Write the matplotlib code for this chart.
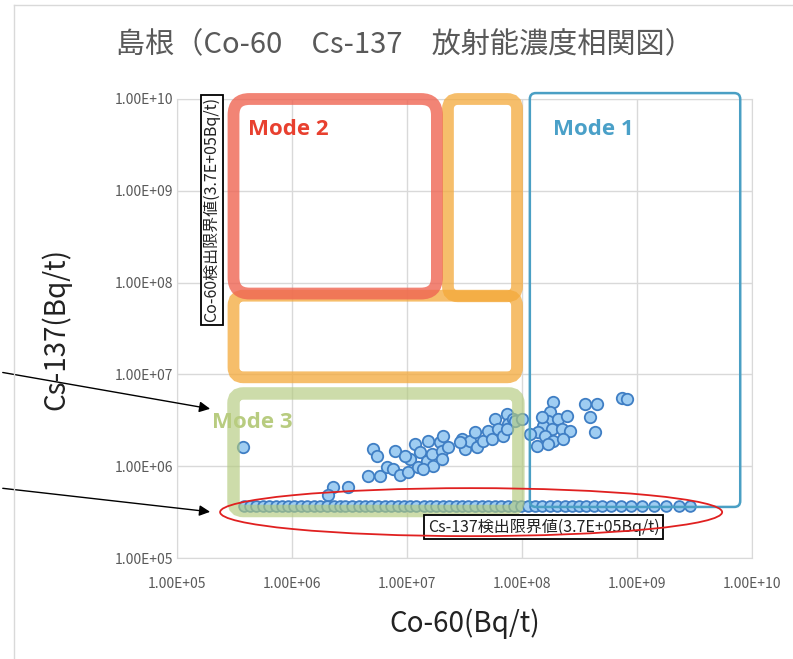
#Shimane Co-60 / Cs-137 activity correlation chart
import matplotlib
matplotlib.use("Agg")
import matplotlib.pyplot as plt
from matplotlib.patches import FancyBboxPatch, Ellipse
from matplotlib.transforms import IdentityTransform

plt.rcParams['font.family'] = ['Noto Sans CJK JP', 'DejaVu Sans']

#detected samples (Bq/t)
co60 = [3.75e5, 2.27e6, 3.07e6, 2.06e6, 5.06e6, 5.48e6, 7.87e6, 4.58e6, 5.82e6, 6.7e6,
        7.55e6, 8.7e6, 1.02e7, 1.06e7, 1.17e7, 1.25e7, 1.30e7, 1.49e7, 1.52e7, 1.65e7,
        1.68e7, 1.94e7, 2.01e7, 2.06e7, 2.27e7, 2.01e7, 3.0e7, 3.19e7, 3.53e7, 3.9e7,
        4.06e7, 4.58e7, 5.06e7, 5.48e7, 5.82e7, 6.18e7, 6.84e7, 7.41e7, 7.55e7, 8.35e7,
        9.6e6, 1.38e7, 2.89e7, 8.7e7, 1.0e8, 7.41e7,
        1.86e8, 1.75e8, 1.68e8, 1.52e8, 2.06e8, 2.46e8, 1.38e8, 1.82e8, 2.23e8, 2.61e8,
        1.58e8, 1.86e8, 2.27e8, 1.35e8, 1.68e8, 3.53e8, 4.49e8, 3.9e8, 4.31e8, 7.41e8,
        8.19e8, 1.49e8, 1.17e8]
cs137 = [1.61e6, 5.9e5, 5.9e5, 4.8e5, 1.53e6, 1.29e6, 1.46e6, 7.8e5, 7.8e5, 9.75e5,
         9.3e5, 8.0e5, 8.6e5, 1.19e6, 1.73e6, 9.75e5, 1.42e6, 1.13e6, 1.87e6, 1.35e6,
         1.0e6, 1.82e6, 1.46e6, 2.12e6, 1.61e6, 1.19e6, 1.96e6, 1.53e6, 1.87e6, 2.34e6,
         1.61e6, 1.87e6, 2.4e6, 1.96e6, 3.24e6, 2.52e6, 2.12e6, 3.67e6, 2.86e6, 3.24e6,
         1.29e6, 9.3e5, 1.82e6, 3.08e6, 3.24e6, 2.52e6,
         4.97e6, 3.87e6, 3.08e6, 2.72e6, 3.24e6, 3.49e6, 2.34e6, 2.52e6, 2.52e6, 2.4e6,
         2.12e6, 1.87e6, 1.96e6, 1.65e6, 1.73e6, 4.72e6, 4.72e6, 3.41e6, 2.34e6, 5.48e6,
         5.35e6, 3.41e6, 2.23e6]

#samples with Cs-137 below detection limit (plotted at the limit)
cs137_limit = 3.7e5
co60_at_cs_limit = [3.8e5, 4.3e5, 4.9e5, 5.6e5, 6.3e5, 7.2e5, 8.2e5, 9.3e5, 1.05e6, 1.2e6,
                    1.35e6, 1.55e6, 1.75e6, 2.0e6, 2.3e6, 2.6e6, 2.9e6, 3.3e6, 3.8e6, 4.3e6,
                    4.9e6, 5.6e6, 6.4e6, 7.3e6, 8.3e6, 9.4e6, 1.07e7, 1.2e7, 1.4e7, 1.6e7,
                    1.8e7, 2.05e7, 2.3e7, 2.65e7, 3.0e7, 3.4e7, 3.9e7, 4.5e7, 5.1e7, 5.8e7,
                    6.6e7, 7.5e7, 8.6e7, 9.8e7, 1.12e8, 1.3e8, 1.5e8, 1.75e8, 2.0e8, 2.35e8,
                    2.7e8, 3.1e8, 3.6e8, 4.2e8, 5.0e8, 6.0e8, 7.2e8, 8.8e8, 1.1e9, 1.4e9,
                    1.8e9, 2.3e9, 2.9e9]

ticks = [1e5, 1e6, 1e7, 1e8, 1e9, 1e10]
tick_labels = ["1.00E+05", "1.00E+06", "1.00E+07", "1.00E+08", "1.00E+09", "1.00E+10"]

#mode regions: (co60 min, co60 max, cs137 min, cs137 max)
mode2_box = (3.1e5, 1.82e7, 7.6e7, 1.0e10)
orange_box_a = (2.27e7, 9.05e7, 7.1e7, 1.0e10)
orange_box_b = (3.1e5, 9.05e7, 9.3e6, 7.2e7)
mode3_box = (3.1e5, 9.3e7, 3.25e5, 6.2e6)
mode1_box = (1.17e8, 7.9e9, 3.6e5, 1.16e10)
limit_ellipse = (2.37e5, 5.5e9, 1.73e5, 5.77e5)

fig = plt.figure(figsize=(7.93, 6.59), dpi=100)
ax = fig.add_axes([177/793, 101/659, 575/793, 459/659])
ax.set_xscale("log")
ax.set_yscale("log")
ax.set_xlim(1e5, 1e10)
ax.set_ylim(1e5, 1e10)
ax.set_xticks(ticks)
ax.set_xticklabels(tick_labels)
ax.set_yticks(ticks)
ax.set_yticklabels(tick_labels)
ax.minorticks_off()
ax.tick_params(axis="x", length=0, pad=14, labelsize=10, labelcolor="#595959")
ax.tick_params(axis="y", length=0, pad=3, labelsize=10, labelcolor="#595959")
ax.grid(True, color="#d9d9d9", linewidth=1)
for s in ax.spines.values():
    s.set_color("#d9d9d9")
ax.set_axisbelow(True)

ax.scatter(co60, cs137, s=68, facecolor="#9fcdf2", edgecolor="#3f7ec4", linewidth=1.3, zorder=2)
ax.scatter(co60_at_cs_limit, [cs137_limit] * len(co60_at_cs_limit), s=60,
           facecolor="#9fcdf2", edgecolor="#3f7ec4", linewidth=1.3, zorder=2)


def rounded_box(box, color, lw, alpha, radius):
    x0, y0 = ax.transData.transform((box[0], box[2]))
    x1, y1 = ax.transData.transform((box[1], box[3]))
    p = FancyBboxPatch((x0, y0), x1 - x0, y1 - y0,
                       boxstyle="round,pad=0,rounding_size=%g" % radius,
                       transform=IdentityTransform(), fill=False, edgecolor=color,
                       linewidth=lw, alpha=alpha, zorder=3, clip_on=False)
    ax.add_artist(p)


rounded_box(orange_box_a, "#f4a93a", 8.5, 0.75, 10)
rounded_box(orange_box_b, "#f4a93a", 8.5, 0.75, 10)
rounded_box(mode2_box, "#ef6553", 8.5, 0.8, 16)
rounded_box(mode3_box, "#b3ca7d", 9, 0.65, 10)
rounded_box(mode1_box, "#4a9fc4", 1.8, 1.0, 6)

ax.text(4.14e5, 4.6e9, "Mode 2", color="#e8402f", fontsize=16, fontweight="bold",
        family=["Open Sans", "DejaVu Sans"], ha="left", va="center", zorder=5)
ax.text(1.86e8, 4.6e9, "Mode 1", color="#4aa0c8", fontsize=16, fontweight="bold",
        family=["Open Sans", "DejaVu Sans"], ha="left", va="center", zorder=5)
ax.text(2.01e5, 3.0e6, "Mode 3", color="#b8cc80", fontsize=16, fontweight="bold",
        family=["Open Sans", "DejaVu Sans"], ha="left", va="center", zorder=5)

#detection limit notes
ax.text(1.55e8, 2.17e5, "Cs-137検出限界値(3.7E+05Bq/t)", fontsize=11.5, color="#222222",
        ha="center", va="center", zorder=4,
        bbox=dict(boxstyle="square,pad=0.22", fc="white", ec="black", lw=1.3))
ax.text(2.0e5, 6.2e8, "Co-60検出限界値(3.7E+05Bq/t)", fontsize=11.5, color="#222222",
        rotation=90, ha="center", va="center", zorder=4,
        bbox=dict(boxstyle="square,pad=0.15", fc="white", ec="black", lw=1.3))

ex0, ey0 = ax.transData.transform((limit_ellipse[0], limit_ellipse[2]))
ex1, ey1 = ax.transData.transform((limit_ellipse[1], limit_ellipse[3]))
ax.add_artist(Ellipse(((ex0 + ex1) / 2, (ey0 + ey1) / 2), ex1 - ex0, ey1 - ey0,
                      transform=IdentityTransform(), fill=False, edgecolor="#e02020",
                      linewidth=1.3, zorder=6, clip_on=False))

#arrows coming in from the left
ax.annotate("", xy=(2.05e5, 4.17e6), xycoords="data", xytext=(0, 287),
            textcoords="figure pixels", annotation_clip=False,
            arrowprops=dict(arrowstyle="-|>", color="black", lw=1, mutation_scale=16))
ax.annotate("", xy=(2.05e5, 3.16e5), xycoords="data", xytext=(0, 171),
            textcoords="figure pixels", annotation_clip=False,
            arrowprops=dict(arrowstyle="-|>", color="black", lw=1, mutation_scale=16))

ax.set_xlabel("Co-60(Bq/t)", fontsize=20, color="#222222", labelpad=12)
ax.set_ylabel("Cs-137(Bq/t)", fontsize=20, color="#222222")
ax.yaxis.set_label_coords(-0.184, 0.5)

fig.text(0.511, 1 - 45/659, "島根（Co-60　Cs-137　放射能濃度相関図）", fontsize=21,
         color="#595959", ha="center", va="center")

#chart area border
fig.add_artist(plt.Line2D([14/793, 14/793], [0, 1 - 5/659], color="#d9d9d9", lw=1))
fig.add_artist(plt.Line2D([14/793, 1], [1 - 5/659, 1 - 5/659], color="#d9d9d9", lw=1))

fig.savefig("out.png", dpi=100)
